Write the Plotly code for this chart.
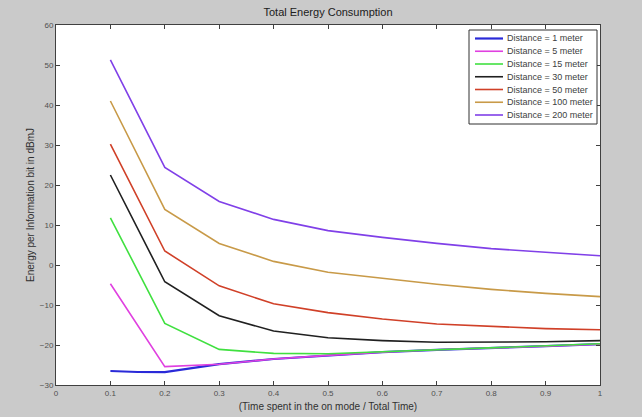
import plotly.graph_objects as go

# ---- data ----
x_vals = [0.1, 0.2, 0.3, 0.4, 0.5, 0.6, 0.7, 0.8, 0.9, 1.0]
x_blue = [0.1, 0.15, 0.2, 0.3, 0.4, 0.5, 0.6, 0.7, 0.8, 0.9, 1.0]

d1 = [-26.5, -26.75, -26.8, -24.8, -23.5, -22.6, -21.8, -21.2, -20.8, -20.3, -19.8]
d5 = [-4.7, -25.4, -24.8, -23.5, -22.6, -21.8, -21.2, -20.8, -20.3, -19.8]
d15 = [11.8, -14.6, -21.1, -22.1, -22.2, -21.7, -21.1, -20.7, -20.2, -19.7]
d30 = [22.5, -4.2, -12.7, -16.5, -18.2, -18.9, -19.3, -19.3, -19.2, -18.9]
d50 = [30.2, 3.5, -5.2, -9.7, -11.9, -13.5, -14.75, -15.4, -15.9, -16.2]
d100 = [41.0, 13.9, 5.4, 0.9, -1.8, -3.3, -4.8, -6.1, -7.1, -7.9]
d200 = [51.3, 24.4, 15.9, 11.4, 8.6, 6.9, 5.4, 4.1, 3.2, 2.3]

names = ["Distance = 1 meter", "Distance = 5 meter", "Distance = 15 meter",
         "Distance = 30 meter", "Distance = 50 meter", "Distance = 100 meter",
         "Distance = 200 meter"]
colors = ["#2a2ad8", "#e040e0", "#40e040", "#202020", "#d04028", "#c89a48", "#8040e8"]
widths = [2.2, 1.6, 1.6, 1.6, 1.6, 1.6, 1.6]
series = [(x_blue, d1), (x_vals, d5), (x_vals, d15), (x_vals, d30),
          (x_vals, d50), (x_vals, d100), (x_vals, d200)]

x_ticks = [0, 0.1, 0.2, 0.3, 0.4, 0.5, 0.6, 0.7, 0.8, 0.9, 1]
y_ticks = [-30, -20, -10, 0, 10, 20, 30, 40, 50, 60]

FONT = "Arial, Liberation Sans, sans-serif"

fig = go.Figure()
for (xs, ys), name, col, w in zip(series, names, colors, widths):
    fig.add_trace(go.Scatter(x=xs, y=ys, mode="lines", name=name,
                             line=dict(color=col, width=w), showlegend=False))

# ---- compact MATLAB-style legend box (layout decoration in paper coords) ----
L, R, T, B = 56, 600, 25, 385          # plot area in pixels
def px(x): return (x - L) / (R - L)
def py(y): return (B - y) / (B - T)

box_l, box_r, box_t, box_b = 469, 597, 30, 124
row0, row_step = 38.5, 12.75
shapes = [dict(type="rect", xref="paper", yref="paper",
               x0=px(box_l), x1=px(box_r), y0=py(box_b), y1=py(box_t),
               fillcolor="#ffffff", line=dict(color="#303030", width=1), layer="above")]
annotations = []
for i, (name, col, w) in enumerate(zip(names, colors, widths)):
    yy = row0 + i * row_step
    shapes.append(dict(type="line", xref="paper", yref="paper",
                       x0=px(475), x1=px(503), y0=py(yy), y1=py(yy),
                       line=dict(color=col, width=w), layer="above"))
    annotations.append(dict(text=name, xref="paper", yref="paper", x=px(505), y=py(yy),
                            xanchor="left", yanchor="middle", showarrow=False,
                            font=dict(family=FONT, size=9, color="#404040")))

axis_common = dict(
    showline=True, linecolor="#404040", linewidth=1, mirror="ticks",
    ticks="inside", ticklen=4, tickcolor="#404040",
    showgrid=False, zeroline=False, automargin=False,
    tickfont=dict(family=FONT, size=8, color="#505050"),
)

fig.update_layout(
    width=642, height=417,
    margin=dict(l=L, r=642 - R, t=T, b=417 - B),
    paper_bgcolor="#cacaca", plot_bgcolor="#ffffff",
    title=dict(text="Total Energy Consumption", x=(L + R) / 2 / 642, xanchor="center",
               y=1 - 12 / 417, yanchor="middle",
               font=dict(family=FONT, size=11, color="#202020")),
    xaxis=dict(range=[0, 1], tickvals=x_ticks, ticktext=[str(t) for t in x_ticks],
               title=dict(text="(Time spent in the on mode / Total Time)", standoff=6,
                          font=dict(family=FONT, size=10, color="#303030")),
               **axis_common),
    yaxis=dict(range=[-30, 60], tickvals=y_ticks,
               title=dict(text="Energy per Information bit in dBmJ", standoff=3,
                          font=dict(family=FONT, size=10, color="#303030")),
               **axis_common),
    shapes=shapes,
    annotations=annotations,
    showlegend=False,
)

fig.write_html("out.html")
